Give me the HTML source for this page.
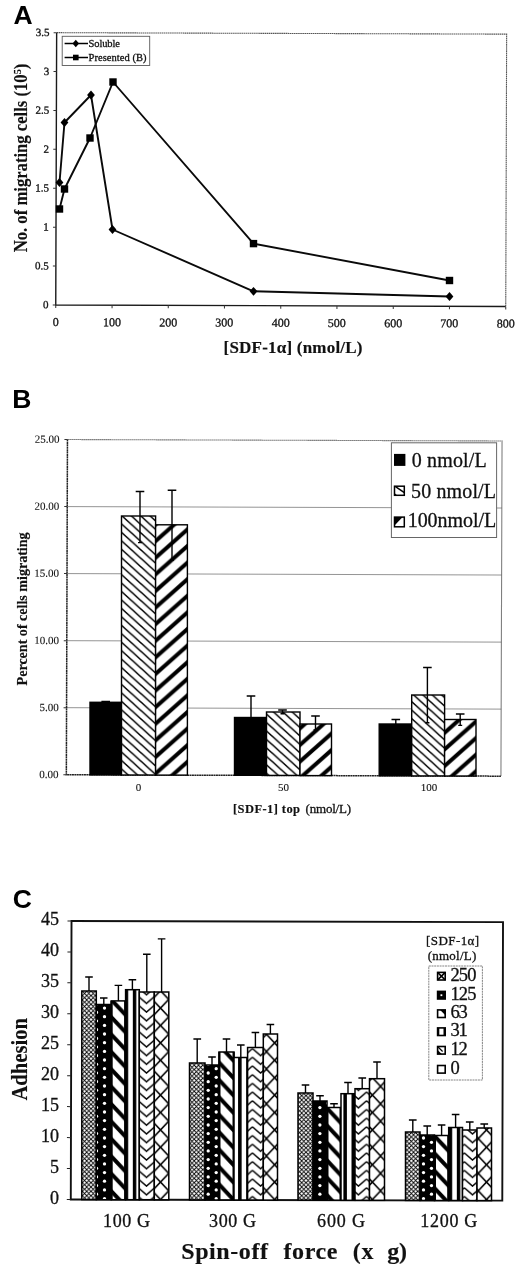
<!DOCTYPE html>
<html lang="en"><head><meta charset="utf-8"><title>Figure</title>
<style>
html,body{margin:0;padding:0;background:#fff;}
body{width:520px;height:1270px;overflow:hidden;}
svg{display:block;}
text{font-family:"Liberation Serif", "Times New Roman", serif;fill:#111;stroke:#111;stroke-width:0.3px;}
.b{font-weight:bold;stroke-width:0.15px;}
.t0{stroke-width:0.1px;}
.lab{font-family:"Liberation Sans", Arial, sans-serif;font-weight:bold;fill:#000;stroke:none;}
</style></head><body>
<svg width="520" height="1270" viewBox="0 0 520 1270">
<rect x="0" y="0" width="520" height="1270" fill="#fff"/>

<defs>
<pattern id="pThinB" x="122.3" y="566.9" width="9.35" height="8.45" patternUnits="userSpaceOnUse"><rect width="9.35" height="8.45" fill="#fff"/><path d="M-9.35,-8.45 L18.7,16.9 M-9.35,0 L9.35,16.9 M0,-8.45 L18.7,8.45" stroke="#000" stroke-width="1.5" fill="none"/></pattern>
<pattern id="pThickB" x="155.6" y="557.6999999999999" width="18.7" height="16.6" patternUnits="userSpaceOnUse"><rect width="18.7" height="16.6" fill="#fff"/><path d="M-18.7,33.2 L37.4,-16.6 M-18.7,16.6 L18.7,-16.6 M0,33.2 L37.4,0" stroke="#000" stroke-width="4.0" fill="none"/></pattern>
<pattern id="pC1" x="82.4" y="1100" width="4.3" height="4.35" patternUnits="userSpaceOnUse"><rect width="4.3" height="4.35" fill="#fff"/><path d="M-4.3,-4.35 L8.6,8.7 M-4.3,8.7 L8.6,-4.35" stroke="#000" stroke-width="0.9" fill="none"/></pattern>
<pattern id="pC2" x="99.42" y="1098.05" width="8.15" height="8.7" patternUnits="userSpaceOnUse"><rect width="8.15" height="8.7" fill="#000"/><circle cx="4.075" cy="4.35" r="1.65" fill="#fff"/></pattern>
<pattern id="pC3" x="111.2" y="1104" width="16.3" height="17.4" patternUnits="userSpaceOnUse"><rect width="16.3" height="17.4" fill="#fff"/><path d="M-16.3,-17.4 L32.6,34.8 M-16.3,0 L16.3,34.8 M0,-17.4 L32.6,17.4" stroke="#000" stroke-width="4.0" fill="none"/></pattern>
<pattern id="pC4" x="132.8" y="0" width="8.1" height="8" patternUnits="userSpaceOnUse"><rect width="8.1" height="8" fill="#fff"/><rect width="3.5" height="8" fill="#000"/></pattern>
<pattern id="pC5" x="138.35" y="1100" width="16.3" height="8.7" patternUnits="userSpaceOnUse"><rect width="16.3" height="8.7" fill="#fff"/><path d="M0,-7.8999999999999995 L8.15,-0.8999999999999995 L16.3,-7.8999999999999995 M0,0.8 L8.15,7.8 L16.3,0.8 M0,9.5 L8.15,16.5 L16.3,9.5" stroke="#000" stroke-width="1.5" fill="none"/></pattern>
<pattern id="pC6" x="152.35" y="1103.8" width="16.3" height="17.4" patternUnits="userSpaceOnUse"><rect width="16.3" height="17.4" fill="#fff"/><path d="M-16.3,-17.4 L32.6,34.8 M-16.3,34.8 L32.6,-17.4" stroke="#000" stroke-width="1.5" fill="none"/></pattern>
</defs>
<text class="lab" x="13.6" y="24" font-size="26.5">A</text>
<g transform="rotate(0.19 281 169.5)">
<path d="M56.2,33.4 H506.2 V305.7" stroke="#555" stroke-width="1.1" stroke-dasharray="1.6,0.5" fill="none"/>
<path d="M56.2,33.4 V305.7 H506.2" stroke="#1a1a1a" stroke-width="1.4" fill="none"/>
<path d="M53.2,305.7 H56.2" stroke="#333" stroke-width="1"/>
<text x="49" y="309.1" font-size="11" text-anchor="end">0</text>
<path d="M53.2,266.8 H56.2" stroke="#333" stroke-width="1"/>
<text x="49" y="270.2" font-size="11" text-anchor="end">0.5</text>
<path d="M53.2,227.9 H56.2" stroke="#333" stroke-width="1"/>
<text x="49" y="231.3" font-size="11" text-anchor="end">1</text>
<path d="M53.2,189.0 H56.2" stroke="#333" stroke-width="1"/>
<text x="49" y="192.4" font-size="11" text-anchor="end">1.5</text>
<path d="M53.2,150.1 H56.2" stroke="#333" stroke-width="1"/>
<text x="49" y="153.5" font-size="11" text-anchor="end">2</text>
<path d="M53.2,111.2 H56.2" stroke="#333" stroke-width="1"/>
<text x="49" y="114.6" font-size="11" text-anchor="end">2.5</text>
<path d="M53.2,72.3 H56.2" stroke="#333" stroke-width="1"/>
<text x="49" y="75.7" font-size="11" text-anchor="end">3</text>
<path d="M53.2,33.4 H56.2" stroke="#333" stroke-width="1"/>
<text x="49" y="36.8" font-size="11" text-anchor="end">3.5</text>
<path d="M56.2,305.7 V308.7" stroke="#333" stroke-width="1"/>
<text x="56.2" y="326.8" font-size="12" text-anchor="middle">0</text>
<path d="M112.5,305.7 V308.7" stroke="#333" stroke-width="1"/>
<text x="112.5" y="326.8" font-size="12" text-anchor="middle">100</text>
<path d="M168.7,305.7 V308.7" stroke="#333" stroke-width="1"/>
<text x="168.7" y="326.8" font-size="12" text-anchor="middle">200</text>
<path d="M224.9,305.7 V308.7" stroke="#333" stroke-width="1"/>
<text x="224.9" y="326.8" font-size="12" text-anchor="middle">300</text>
<path d="M281.2,305.7 V308.7" stroke="#333" stroke-width="1"/>
<text x="281.2" y="326.8" font-size="12" text-anchor="middle">400</text>
<path d="M337.4,305.7 V308.7" stroke="#333" stroke-width="1"/>
<text x="337.4" y="326.8" font-size="12" text-anchor="middle">500</text>
<path d="M393.7,305.7 V308.7" stroke="#333" stroke-width="1"/>
<text x="393.7" y="326.8" font-size="12" text-anchor="middle">600</text>
<path d="M449.9,305.7 V308.7" stroke="#333" stroke-width="1"/>
<text x="449.9" y="326.8" font-size="12" text-anchor="middle">700</text>
<path d="M506.2,305.7 V308.7" stroke="#333" stroke-width="1"/>
<text x="506.2" y="326.8" font-size="12" text-anchor="middle">800</text>
</g>
<text class="b" transform="translate(27.3,252.3) rotate(-90)" font-size="18" textLength="188.6" lengthAdjust="spacingAndGlyphs">No. of migrating cells (10<tspan font-size="11" dy="-6.5">5</tspan><tspan dy="6.5">)</tspan></text>
<text class="b" x="223.5" y="353.3" font-size="17" textLength="139" lengthAdjust="spacing">[SDF-1α] (nmol/L)</text>
<polyline points="59.5,182.5 64.5,122.5 91,95 112.5,229.5 253.5,291.3 449.5,296.5" fill="none" stroke="#0a0a0a" stroke-width="1.9" stroke-linejoin="round"/>
<polyline points="59.5,209 64.5,189 90,138 113,82 253.5,243.6 449.5,280.5" fill="none" stroke="#0a0a0a" stroke-width="1.9" stroke-linejoin="round"/>
<path d="M55.6,182.5 L59.5,178.09 L63.4,182.5 L59.5,186.91 Z" fill="#000"/>
<path d="M60.6,122.5 L64.5,118.09 L68.4,122.5 L64.5,126.91 Z" fill="#000"/>
<path d="M87.1,95 L91,90.59 L94.9,95 L91,99.41 Z" fill="#000"/>
<path d="M108.6,229.5 L112.5,225.09 L116.4,229.5 L112.5,233.91 Z" fill="#000"/>
<path d="M249.6,291.3 L253.5,286.89 L257.4,291.3 L253.5,295.71 Z" fill="#000"/>
<path d="M445.6,296.5 L449.5,292.09 L453.4,296.5 L449.5,300.91 Z" fill="#000"/>
<rect x="55.8" y="205.3" width="7.4" height="7.4" fill="#000"/>
<rect x="60.8" y="185.3" width="7.4" height="7.4" fill="#000"/>
<rect x="86.3" y="134.3" width="7.4" height="7.4" fill="#000"/>
<rect x="109.3" y="78.3" width="7.4" height="7.4" fill="#000"/>
<rect x="249.8" y="239.9" width="7.4" height="7.4" fill="#000"/>
<rect x="445.8" y="276.8" width="7.4" height="7.4" fill="#000"/>
<rect x="62.2" y="36.3" width="87.5" height="29.2" fill="#fff" stroke="#5a5a5a" stroke-width="0.9"/>
<path d="M64.6,43.5 H88" stroke="#000" stroke-width="1.5"/><path d="M72.5,43.5 L75.8,39.77 L79.1,43.5 L75.8,47.23 Z" fill="#000"/>
<path d="M64.6,57.5 H88" stroke="#000" stroke-width="1.5"/><rect x="73.0" y="54.7" width="5.6" height="5.6" fill="#000"/>
<text x="88.5" y="46.8" font-size="10.5" textLength="31.5" lengthAdjust="spacing">Soluble</text>
<text x="88.5" y="61" font-size="10.5" textLength="58" lengthAdjust="spacing">Presented (B)</text>
<text class="lab" x="12.2" y="408.4" font-size="26.5">B</text>
<g transform="rotate(0.19 284.2 607.85)">
<path d="M66.9,708.4 H501.5" stroke="#888" stroke-width="0.9"/>
<path d="M66.9,641.4 H501.5" stroke="#888" stroke-width="0.9"/>
<path d="M66.9,574.3 H501.5" stroke="#888" stroke-width="0.9"/>
<path d="M66.9,507.3 H501.5" stroke="#888" stroke-width="0.9"/>
<path d="M66.9,440.25 H501.5 V775.45" stroke="#555" stroke-width="1.1" stroke-dasharray="1.3,0.7" fill="none"/>
<path d="M66.9,440.25 V775.45 H501.5" stroke="#222" stroke-width="1.5" stroke-dasharray="2,0.4" fill="none"/>
<path d="M63.900000000000006,775.5 H66.9" stroke="#333" stroke-width="1"/>
<text class="t0" x="59" y="778.8" font-size="11" text-anchor="end">0.00</text>
<path d="M63.900000000000006,708.4 H66.9" stroke="#333" stroke-width="1"/>
<text class="t0" x="59" y="711.7" font-size="11" text-anchor="end">5.00</text>
<path d="M63.900000000000006,641.4 H66.9" stroke="#333" stroke-width="1"/>
<text class="t0" x="59" y="644.7" font-size="11" text-anchor="end">10.00</text>
<path d="M63.900000000000006,574.3 H66.9" stroke="#333" stroke-width="1"/>
<text class="t0" x="59" y="577.6" font-size="11" text-anchor="end">15.00</text>
<path d="M63.900000000000006,507.3 H66.9" stroke="#333" stroke-width="1"/>
<text class="t0" x="59" y="510.6" font-size="11" text-anchor="end">20.00</text>
<path d="M63.900000000000006,440.2 H66.9" stroke="#333" stroke-width="1"/>
<text class="t0" x="59" y="443.6" font-size="11" text-anchor="end">25.00</text>
</g>
<rect x="90" y="702.3" width="31.5" height="72.6" fill="#000" stroke="#000" stroke-width="1.4"/>
<rect x="121.5" y="516" width="34.1" height="259.0" fill="url(#pThinB)" stroke="#000" stroke-width="1.4"/>
<rect x="155.6" y="524.8" width="31.8" height="250.3" fill="url(#pThickB)" stroke="#000" stroke-width="1.4"/>
<rect x="234.5" y="717.5" width="32.0" height="57.8" fill="#000" stroke="#000" stroke-width="1.4"/>
<rect x="266.5" y="712" width="33.5" height="63.4" fill="url(#pThinB)" stroke="#000" stroke-width="1.4"/>
<rect x="300" y="724" width="31.5" height="51.6" fill="url(#pThickB)" stroke="#000" stroke-width="1.4"/>
<rect x="379.2" y="724" width="32.5" height="51.8" fill="#000" stroke="#000" stroke-width="1.4"/>
<rect x="411.7" y="695" width="32.9" height="80.9" fill="url(#pThinB)" stroke="#000" stroke-width="1.4"/>
<rect x="444.6" y="719.5" width="31.4" height="56.5" fill="url(#pThickB)" stroke="#000" stroke-width="1.4"/>
<path d="M105.7,701.5 V703 M101.4,701.5 H110.0" stroke="#000" stroke-width="1.4" fill="none"/>
<path d="M140,491.5 V542.6 M135.7,491.5 H144.3 M138,542.6 H142" stroke="#000" stroke-width="1.4" fill="none"/>
<path d="M172,490.3 V560 M167.7,490.3 H176.3 M170,560 H174" stroke="#000" stroke-width="1.4" fill="none"/>
<path d="M251,696 V717.5 M246.7,696 H255.3" stroke="#000" stroke-width="1.4" fill="none"/>
<path d="M282.5,710 V713.7 M278.2,710 H286.8 M280.5,713.7 H284.5" stroke="#000" stroke-width="1.4" fill="none"/>
<path d="M315.5,716 V730 M311.2,716 H319.8 M313.5,730 H317.5" stroke="#000" stroke-width="1.4" fill="none"/>
<path d="M395.8,719.5 V724 M391.5,719.5 H400.1" stroke="#000" stroke-width="1.4" fill="none"/>
<path d="M427.4,667.5 V722.7 M423.09999999999997,667.5 H431.7 M425.4,722.7 H429.4" stroke="#000" stroke-width="1.4" fill="none"/>
<path d="M460.2,714 V725.4 M455.9,714 H464.5 M458.2,725.4 H462.2" stroke="#000" stroke-width="1.4" fill="none"/>
<text class="t0" x="138.5" y="791.3" font-size="11" text-anchor="middle">0</text>
<text class="t0" x="283.5" y="791.3" font-size="11" text-anchor="middle">50</text>
<text class="t0" x="429" y="791.3" font-size="11" text-anchor="middle">100</text>
<text class="b" x="233" y="813.3" font-size="12.5" textLength="67" lengthAdjust="spacing">[SDF-1] top</text>
<text x="305.6" y="813.3" font-size="13" textLength="45.5" lengthAdjust="spacing">(nmol/L)</text>
<text class="b" transform="translate(26.5,685.4) rotate(-90)" font-size="15" textLength="153" lengthAdjust="spacingAndGlyphs">Percent of cells migrating</text>
<rect x="391.4" y="442.8" width="105.2" height="94.7" fill="#fff" stroke="#666" stroke-width="1"/>
<rect x="394" y="453.9" width="11.4" height="12" fill="#000"/>
<rect x="394.5" y="486.2" width="9.8" height="9.1" fill="#fff" stroke="#000" stroke-width="1.5"/>
<path d="M395.5,486.6 L404.3,492.6" stroke="#000" stroke-width="1.5"/><path d="M394.5,493 l2.5,2.3 h-2.5 Z" fill="#000"/>
<rect x="394.5" y="517.1" width="9.8" height="9.7" fill="#fff" stroke="#000" stroke-width="1.5"/>
<path d="M394.5,517.1 h8.2 l-8.2,8.4 Z" fill="#000"/>
<text x="411.7" y="466.5" font-size="20" textLength="75" lengthAdjust="spacing">0 nmol/L</text>
<text x="411" y="497.5" font-size="20" textLength="85" lengthAdjust="spacing">50 nmol/L</text>
<text x="407.7" y="527.2" font-size="20" textLength="88.5" lengthAdjust="spacing">100nmol/L</text>
<text class="lab" x="12.8" y="908" font-size="26.5">C</text>
<g transform="rotate(0.15 286.9 1060.8)">
<rect x="71.15" y="921.55" width="431.5" height="278.5" fill="none" stroke="#111" stroke-width="1.9"/>
<path d="M67.15,1200.1 H71.15" stroke="#222" stroke-width="1"/>
<path d="M67.15,1169.1 H71.15" stroke="#222" stroke-width="1"/>
<path d="M67.15,1138.2 H71.15" stroke="#222" stroke-width="1"/>
<path d="M67.15,1107.2 H71.15" stroke="#222" stroke-width="1"/>
<path d="M67.15,1076.3 H71.15" stroke="#222" stroke-width="1"/>
<path d="M67.15,1045.3 H71.15" stroke="#222" stroke-width="1"/>
<path d="M67.15,1014.4 H71.15" stroke="#222" stroke-width="1"/>
<path d="M67.15,983.4 H71.15" stroke="#222" stroke-width="1"/>
<path d="M67.15,952.5 H71.15" stroke="#222" stroke-width="1"/>
<path d="M67.15,921.5 H71.15" stroke="#222" stroke-width="1"/>
</g>
<text x="59" y="1203.8" font-size="18" text-anchor="end">0</text>
<text x="59" y="1172.8" font-size="18" text-anchor="end">5</text>
<text x="59" y="1141.8" font-size="18" text-anchor="end">10</text>
<text x="59" y="1110.9" font-size="18" text-anchor="end">15</text>
<text x="59" y="1080.0" font-size="18" text-anchor="end">20</text>
<text x="59" y="1049.0" font-size="18" text-anchor="end">25</text>
<text x="59" y="1018.1" font-size="18" text-anchor="end">30</text>
<text x="59" y="987.1" font-size="18" text-anchor="end">35</text>
<text x="59" y="956.2" font-size="18" text-anchor="end">40</text>
<text x="59" y="925.2" font-size="18" text-anchor="end">45</text>
<rect x="81.8" y="991" width="14.5" height="208.6" fill="url(#pC1)" stroke="#000" stroke-width="1.5"/>
<path d="M89.0,991 V977 M85.2,977 H92.8" stroke="#000" stroke-width="1.4" fill="none"/>
<rect x="96.3" y="1004.5" width="14.9" height="195.1" fill="#000" stroke="#000" stroke-width="1.5"/>
<clipPath id="cb96"><rect x="97.0" y="1005.2" width="13.5" height="193.7"/></clipPath>
<g clip-path="url(#cb96)" fill="#fff">
<circle cx="96.5" cy="1003.7" r="1.65"/>
<circle cx="96.5" cy="1012.4" r="1.65"/>
<circle cx="96.5" cy="1021.0" r="1.65"/>
<circle cx="96.5" cy="1029.7" r="1.65"/>
<circle cx="96.5" cy="1038.4" r="1.65"/>
<circle cx="96.5" cy="1047.0" r="1.65"/>
<circle cx="96.5" cy="1055.7" r="1.65"/>
<circle cx="96.5" cy="1064.3" r="1.65"/>
<circle cx="96.5" cy="1073.0" r="1.65"/>
<circle cx="96.5" cy="1081.7" r="1.65"/>
<circle cx="96.5" cy="1090.3" r="1.65"/>
<circle cx="96.5" cy="1099.0" r="1.65"/>
<circle cx="96.5" cy="1107.6" r="1.65"/>
<circle cx="96.5" cy="1116.3" r="1.65"/>
<circle cx="96.5" cy="1125.0" r="1.65"/>
<circle cx="96.5" cy="1133.6" r="1.65"/>
<circle cx="96.5" cy="1142.3" r="1.65"/>
<circle cx="96.5" cy="1150.9" r="1.65"/>
<circle cx="96.5" cy="1159.6" r="1.65"/>
<circle cx="96.5" cy="1168.3" r="1.65"/>
<circle cx="96.5" cy="1176.9" r="1.65"/>
<circle cx="96.5" cy="1185.6" r="1.65"/>
<circle cx="96.5" cy="1194.2" r="1.65"/>
<circle cx="104.5" cy="1008.1" r="1.65"/>
<circle cx="104.5" cy="1016.7" r="1.65"/>
<circle cx="104.5" cy="1025.4" r="1.65"/>
<circle cx="104.5" cy="1034.0" r="1.65"/>
<circle cx="104.5" cy="1042.7" r="1.65"/>
<circle cx="104.5" cy="1051.4" r="1.65"/>
<circle cx="104.5" cy="1060.0" r="1.65"/>
<circle cx="104.5" cy="1068.7" r="1.65"/>
<circle cx="104.5" cy="1077.3" r="1.65"/>
<circle cx="104.5" cy="1086.0" r="1.65"/>
<circle cx="104.5" cy="1094.7" r="1.65"/>
<circle cx="104.5" cy="1103.3" r="1.65"/>
<circle cx="104.5" cy="1112.0" r="1.65"/>
<circle cx="104.5" cy="1120.6" r="1.65"/>
<circle cx="104.5" cy="1129.3" r="1.65"/>
<circle cx="104.5" cy="1138.0" r="1.65"/>
<circle cx="104.5" cy="1146.6" r="1.65"/>
<circle cx="104.5" cy="1155.3" r="1.65"/>
<circle cx="104.5" cy="1163.9" r="1.65"/>
<circle cx="104.5" cy="1172.6" r="1.65"/>
<circle cx="104.5" cy="1181.2" r="1.65"/>
<circle cx="104.5" cy="1189.9" r="1.65"/>
<circle cx="104.5" cy="1198.6" r="1.65"/>
</g>
<path d="M103.8,1004.5 V998 M100.0,998 H107.5" stroke="#000" stroke-width="1.4" fill="none"/>
<rect x="111.2" y="1000.9" width="14.4" height="198.8" fill="url(#pC3)" stroke="#000" stroke-width="1.5"/>
<path d="M111.60000000000001,1000.9 V1199.7 M125.2,1000.9 V1199.7" stroke="#000" stroke-width="2.2"/>
<path d="M118.4,1000.9 V985.4 M114.6,985.4 H122.2" stroke="#000" stroke-width="1.4" fill="none"/>
<rect x="125.6" y="989.7" width="13.7" height="210.0" fill="url(#pC4)" stroke="#000" stroke-width="1.5"/>
<path d="M132.4,989.7 V979.7 M128.6,979.7 H136.2" stroke="#000" stroke-width="1.4" fill="none"/>
<rect x="139.3" y="992" width="15.0" height="207.7" fill="url(#pC5)" stroke="#000" stroke-width="1.5"/>
<path d="M146.8,992 V954.3 M143.0,954.3 H150.6" stroke="#000" stroke-width="1.4" fill="none"/>
<rect x="154.3" y="992" width="14.5" height="207.8" fill="url(#pC6)" stroke="#000" stroke-width="1.5"/>
<path d="M161.6,992 V938.9 M157.8,938.9 H165.4" stroke="#000" stroke-width="1.4" fill="none"/>
<rect x="189.5" y="1063" width="15.5" height="136.9" fill="url(#pC1)" stroke="#000" stroke-width="1.5"/>
<path d="M197.2,1063 V1039 M193.4,1039 H201.1" stroke="#000" stroke-width="1.4" fill="none"/>
<rect x="205" y="1065" width="14.0" height="134.9" fill="#000" stroke="#000" stroke-width="1.5"/>
<clipPath id="cb205"><rect x="205.7" y="1065.7" width="12.6" height="133.5"/></clipPath>
<g clip-path="url(#cb205)" fill="#fff">
<circle cx="208.2" cy="1064.3" r="1.65"/>
<circle cx="208.2" cy="1073.0" r="1.65"/>
<circle cx="208.2" cy="1081.7" r="1.65"/>
<circle cx="208.2" cy="1090.3" r="1.65"/>
<circle cx="208.2" cy="1099.0" r="1.65"/>
<circle cx="208.2" cy="1107.6" r="1.65"/>
<circle cx="208.2" cy="1116.3" r="1.65"/>
<circle cx="208.2" cy="1125.0" r="1.65"/>
<circle cx="208.2" cy="1133.6" r="1.65"/>
<circle cx="208.2" cy="1142.3" r="1.65"/>
<circle cx="208.2" cy="1150.9" r="1.65"/>
<circle cx="208.2" cy="1159.6" r="1.65"/>
<circle cx="208.2" cy="1168.3" r="1.65"/>
<circle cx="208.2" cy="1176.9" r="1.65"/>
<circle cx="208.2" cy="1185.6" r="1.65"/>
<circle cx="208.2" cy="1194.2" r="1.65"/>
<circle cx="216.2" cy="1068.7" r="1.65"/>
<circle cx="216.2" cy="1077.3" r="1.65"/>
<circle cx="216.2" cy="1086.0" r="1.65"/>
<circle cx="216.2" cy="1094.7" r="1.65"/>
<circle cx="216.2" cy="1103.3" r="1.65"/>
<circle cx="216.2" cy="1112.0" r="1.65"/>
<circle cx="216.2" cy="1120.6" r="1.65"/>
<circle cx="216.2" cy="1129.3" r="1.65"/>
<circle cx="216.2" cy="1138.0" r="1.65"/>
<circle cx="216.2" cy="1146.6" r="1.65"/>
<circle cx="216.2" cy="1155.3" r="1.65"/>
<circle cx="216.2" cy="1163.9" r="1.65"/>
<circle cx="216.2" cy="1172.6" r="1.65"/>
<circle cx="216.2" cy="1181.2" r="1.65"/>
<circle cx="216.2" cy="1189.9" r="1.65"/>
<circle cx="216.2" cy="1198.6" r="1.65"/>
</g>
<path d="M212.0,1065 V1057 M208.2,1057 H215.8" stroke="#000" stroke-width="1.4" fill="none"/>
<rect x="219" y="1052" width="15.0" height="147.9" fill="url(#pC3)" stroke="#000" stroke-width="1.5"/>
<path d="M219.4,1052 V1199.9 M233.6,1052 V1199.9" stroke="#000" stroke-width="2.2"/>
<path d="M226.5,1052 V1039 M222.7,1039 H230.3" stroke="#000" stroke-width="1.4" fill="none"/>
<rect x="234" y="1057.5" width="13.6" height="142.5" fill="url(#pC4)" stroke="#000" stroke-width="1.5"/>
<path d="M240.8,1057.5 V1045 M237.0,1045 H244.6" stroke="#000" stroke-width="1.4" fill="none"/>
<rect x="247.6" y="1047.5" width="15.7" height="152.5" fill="url(#pC5)" stroke="#000" stroke-width="1.5"/>
<path d="M255.4,1047.5 V1032.5 M251.6,1032.5 H259.2" stroke="#000" stroke-width="1.4" fill="none"/>
<rect x="263.3" y="1034" width="14.2" height="166.1" fill="url(#pC6)" stroke="#000" stroke-width="1.5"/>
<path d="M270.4,1034 V1024.5 M266.6,1024.5 H274.2" stroke="#000" stroke-width="1.4" fill="none"/>
<rect x="298" y="1093" width="15.0" height="107.1" fill="url(#pC1)" stroke="#000" stroke-width="1.5"/>
<path d="M305.5,1093 V1085 M301.7,1085 H309.3" stroke="#000" stroke-width="1.4" fill="none"/>
<rect x="313" y="1101" width="14.0" height="99.2" fill="#000" stroke="#000" stroke-width="1.5"/>
<clipPath id="cb313"><rect x="313.7" y="1101.7" width="12.6" height="97.8"/></clipPath>
<g clip-path="url(#cb313)" fill="#fff">
<circle cx="319.9" cy="1107.6" r="1.65"/>
<circle cx="319.9" cy="1116.3" r="1.65"/>
<circle cx="319.9" cy="1125.0" r="1.65"/>
<circle cx="319.9" cy="1133.6" r="1.65"/>
<circle cx="319.9" cy="1142.3" r="1.65"/>
<circle cx="319.9" cy="1150.9" r="1.65"/>
<circle cx="319.9" cy="1159.6" r="1.65"/>
<circle cx="319.9" cy="1168.3" r="1.65"/>
<circle cx="319.9" cy="1176.9" r="1.65"/>
<circle cx="319.9" cy="1185.6" r="1.65"/>
<circle cx="319.9" cy="1194.2" r="1.65"/>
<circle cx="327.8" cy="1103.3" r="1.65"/>
<circle cx="327.8" cy="1112.0" r="1.65"/>
<circle cx="327.8" cy="1120.6" r="1.65"/>
<circle cx="327.8" cy="1129.3" r="1.65"/>
<circle cx="327.8" cy="1138.0" r="1.65"/>
<circle cx="327.8" cy="1146.6" r="1.65"/>
<circle cx="327.8" cy="1155.3" r="1.65"/>
<circle cx="327.8" cy="1163.9" r="1.65"/>
<circle cx="327.8" cy="1172.6" r="1.65"/>
<circle cx="327.8" cy="1181.2" r="1.65"/>
<circle cx="327.8" cy="1189.9" r="1.65"/>
<circle cx="327.8" cy="1198.6" r="1.65"/>
</g>
<path d="M320.0,1101 V1095.7 M316.2,1095.7 H323.8" stroke="#000" stroke-width="1.4" fill="none"/>
<rect x="327" y="1107.5" width="14.0" height="92.7" fill="url(#pC3)" stroke="#000" stroke-width="1.5"/>
<path d="M327.4,1107.5 V1200.2 M340.6,1107.5 V1200.2" stroke="#000" stroke-width="2.2"/>
<path d="M334.0,1107.5 V1103.7 M330.2,1103.7 H337.8" stroke="#000" stroke-width="1.4" fill="none"/>
<rect x="341" y="1093.7" width="14.0" height="106.6" fill="url(#pC4)" stroke="#000" stroke-width="1.5"/>
<path d="M348.0,1093.7 V1082.5 M344.2,1082.5 H351.8" stroke="#000" stroke-width="1.4" fill="none"/>
<rect x="355" y="1088.7" width="14.5" height="111.6" fill="url(#pC5)" stroke="#000" stroke-width="1.5"/>
<path d="M362.2,1088.7 V1078 M358.4,1078 H366.1" stroke="#000" stroke-width="1.4" fill="none"/>
<rect x="369.5" y="1078.7" width="15.0" height="121.6" fill="url(#pC6)" stroke="#000" stroke-width="1.5"/>
<path d="M377.0,1078.7 V1062 M373.2,1062 H380.8" stroke="#000" stroke-width="1.4" fill="none"/>
<rect x="405.5" y="1132" width="14.5" height="68.4" fill="url(#pC1)" stroke="#000" stroke-width="1.5"/>
<path d="M412.8,1132 V1120 M408.9,1120 H416.6" stroke="#000" stroke-width="1.4" fill="none"/>
<rect x="420" y="1135" width="14.5" height="65.5" fill="#000" stroke="#000" stroke-width="1.5"/>
<clipPath id="cb420"><rect x="420.7" y="1135.7" width="13.1" height="64.1"/></clipPath>
<g clip-path="url(#cb420)" fill="#fff">
<circle cx="423.5" cy="1138.0" r="1.65"/>
<circle cx="423.5" cy="1146.6" r="1.65"/>
<circle cx="423.5" cy="1155.3" r="1.65"/>
<circle cx="423.5" cy="1163.9" r="1.65"/>
<circle cx="423.5" cy="1172.6" r="1.65"/>
<circle cx="423.5" cy="1181.2" r="1.65"/>
<circle cx="423.5" cy="1189.9" r="1.65"/>
<circle cx="423.5" cy="1198.6" r="1.65"/>
<circle cx="431.5" cy="1133.6" r="1.65"/>
<circle cx="431.5" cy="1142.3" r="1.65"/>
<circle cx="431.5" cy="1150.9" r="1.65"/>
<circle cx="431.5" cy="1159.6" r="1.65"/>
<circle cx="431.5" cy="1168.3" r="1.65"/>
<circle cx="431.5" cy="1176.9" r="1.65"/>
<circle cx="431.5" cy="1185.6" r="1.65"/>
<circle cx="431.5" cy="1194.2" r="1.65"/>
</g>
<path d="M427.2,1135 V1126 M423.4,1126 H431.1" stroke="#000" stroke-width="1.4" fill="none"/>
<rect x="434.5" y="1135.5" width="14.2" height="65.0" fill="url(#pC3)" stroke="#000" stroke-width="1.5"/>
<path d="M434.9,1135.5 V1200.5 M448.3,1135.5 V1200.5" stroke="#000" stroke-width="2.2"/>
<path d="M441.6,1135.5 V1125 M437.8,1125 H445.4" stroke="#000" stroke-width="1.4" fill="none"/>
<rect x="448.7" y="1127.5" width="13.8" height="73.0" fill="url(#pC4)" stroke="#000" stroke-width="1.5"/>
<path d="M455.6,1127.5 V1114.5 M451.8,1114.5 H459.4" stroke="#000" stroke-width="1.4" fill="none"/>
<rect x="462.5" y="1130" width="14.5" height="70.6" fill="url(#pC5)" stroke="#000" stroke-width="1.5"/>
<path d="M469.8,1130 V1122 M465.9,1122 H473.6" stroke="#000" stroke-width="1.4" fill="none"/>
<rect x="477" y="1128" width="14.5" height="72.6" fill="url(#pC6)" stroke="#000" stroke-width="1.5"/>
<path d="M484.2,1128 V1124 M480.4,1124 H488.1" stroke="#000" stroke-width="1.4" fill="none"/>
<text x="103.0" y="1226.8" font-size="18" textLength="47" lengthAdjust="spacing">100 G</text>
<text x="209.0" y="1226.8" font-size="18" textLength="47" lengthAdjust="spacing">300 G</text>
<text x="317.0" y="1226.8" font-size="18" textLength="48" lengthAdjust="spacing">600 G</text>
<text x="420.3" y="1226.8" font-size="18" textLength="57" lengthAdjust="spacing">1200 G</text>
<text class="b" x="181.2" y="1259" font-size="24" textLength="86.8" lengthAdjust="spacing">Spin-off</text>
<text class="b" x="283.5" y="1259" font-size="24" textLength="54.0" lengthAdjust="spacing">force</text>
<text class="b" x="352.7" y="1259" font-size="24" textLength="20.7" lengthAdjust="spacing">(x</text>
<text class="b" x="387.2" y="1259" font-size="24" textLength="19.8" lengthAdjust="spacing">g)</text>
<text class="b" transform="translate(27.1,1100.6) rotate(-90)" font-size="23.5" textLength="82.6" lengthAdjust="spacingAndGlyphs">Adhesion</text>
<text x="452.6" y="945.3" font-size="13" text-anchor="middle" textLength="53" lengthAdjust="spacing">[SDF-1α]</text>
<text x="452" y="960" font-size="13" text-anchor="middle" textLength="48.5" lengthAdjust="spacing">(nmol/L)</text>
<rect x="428.8" y="966" width="53.6" height="114" fill="#fff" stroke="#777" stroke-width="0.9" stroke-dasharray="2,0.7"/>
<rect x="437.6" y="972.4" width="7.6" height="7.6" fill="#fff" stroke="#000" stroke-width="1.6"/><path d="M437.6,972.4 l7.6,7.6 M445.20000000000005,972.4 l-7.6,7.6" stroke="#000" stroke-width="1.7"/>
<text x="450.4" y="980.9" font-size="18.5" textLength="26.1" lengthAdjust="spacing">250</text>
<rect x="437.6" y="991.4" width="7.6" height="7.6" fill="#000" stroke="#000" stroke-width="1.6"/><rect x="440.5" y="994.3" width="1.8" height="1.8" fill="#fff"/>
<text x="450.4" y="999.9" font-size="18.5" textLength="26.1" lengthAdjust="spacing">125</text>
<rect x="437.6" y="1009.9" width="7.6" height="7.6" fill="#fff" stroke="#000" stroke-width="1.6"/><path d="M440.1,1009.9 L445.20000000000005,1014.9 L445.20000000000005,1009.9 Z" fill="#000"/>
<text x="450.4" y="1018.4" font-size="18.5" textLength="17.4" lengthAdjust="spacing">63</text>
<rect x="437.6" y="1027.9" width="7.6" height="7.6" fill="#fff" stroke="#000" stroke-width="1.6"/><path d="M438.20000000000005,1027.9 v7.6 M444.6,1027.9 v7.6" stroke="#000" stroke-width="2.2"/>
<text x="450.4" y="1036.4" font-size="18.5" textLength="17.4" lengthAdjust="spacing">31</text>
<rect x="437.6" y="1046.5" width="7.6" height="7.6" fill="#fff" stroke="#000" stroke-width="1.6"/><path d="M437.6,1050.1 L441.6,1054.1 L437.6,1054.1 Z" fill="#000"/><path d="M438.1,1047.0 l4.5,4.5" stroke="#000" stroke-width="1.2"/>
<text x="450.4" y="1055.0" font-size="18.5" textLength="17.4" lengthAdjust="spacing">12</text>
<rect x="437.6" y="1065.5" width="7.6" height="7.6" fill="#fff" stroke="#000" stroke-width="1.6"/>
<text x="450.4" y="1074.0" font-size="18.5" textLength="8.7" lengthAdjust="spacing">0</text>
</svg></body></html>
